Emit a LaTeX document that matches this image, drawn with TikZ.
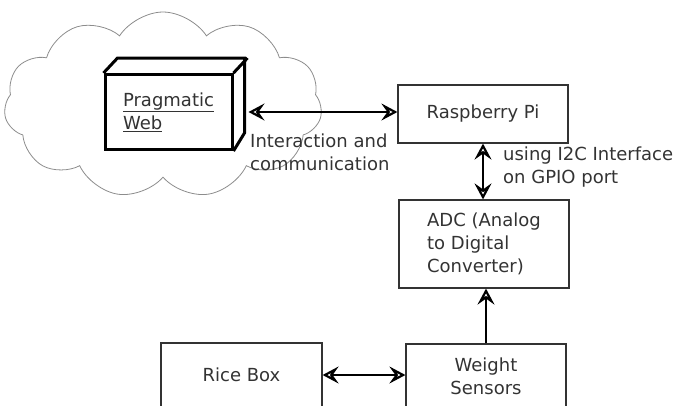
\documentclass[tikz,border=0pt]{standalone}
\usepackage{fontspec}
\setmainfont{DejaVu Sans}
\usepackage{tikz}
\usetikzlibrary{shapes.symbols, arrows.meta}
\definecolor{ink}{RGB}{51, 51, 51}
\definecolor{puff}{RGB}{140, 140, 140}
\newcommand*{\bw}{170}

\begin{document}
\begin{tikzpicture}[
   x=1pt, y=-1pt,
   every node/.style={font=\fontsize{18}{23}\selectfont, text=ink},
   box/.style={rectangle, draw=ink, line width=1.2pt, inner sep=0,
               minimum width=\bw, minimum height=58},
   webbox/.style={rectangle, draw=black, line width=3pt, inner sep=0, align=left,
                  minimum width=127, minimum height=75},
   note/.style={inner sep=0, anchor=north west, align=left},
   link/.style={line width=2.2pt, color=black,
                arrows={[open, length=16pt, width=17pt, inset=6pt, line width=2.2pt]}}
  ]

  \useasboundingbox (0, 0) rectangle (680, 405);
  \clip (0, 0) rectangle (680, 405);

  % Cloud
  \node (cloud) at (163, 105) [cloud, cloud puffs=11, cloud puff arc=115, aspect=1.75,
        draw=puff, line width=0.8pt, minimum width=318, minimum height=186] {};

  % Pragmatic Web
  \node (web) at (168.5, 112) [webbox] {\underline{Pragmatic}\\\underline{Web}};
  \draw[line width=3pt, line join=miter] (web.north west) -- ++(14, -15) -- ++(127, 0)
      -- ++(0, 75) -- (web.south east);
  \draw[line width=3pt] (web.north east) -- ++(14, -15);

  \node (rpi) at (483, 114) [box] {Raspberry Pi};
  \node (adc) at (484, 244) [box, minimum height=88, align=left]
        {ADC (Analog\\to Digital\\Converter)};
  \node (rice) at (241.5, 375) [box, minimum width=161, minimum height=64] {Rice Box};
  \node (weight) at (486, 376) [box, minimum width=160, minimum height=64, align=center]
        {Weight\\Sensors};

  \node (ialbl) at (250, 133.5) [note] {Interaction and\\communication};
  \node (i2clbl) at (503, 146.5) [note] {using I2C Interface\\on GPIO port};

  \draw[link, Stealth-Stealth] ([xshift=15]web.east) -- (web.east -| rpi.west);
  \draw[link, Stealth-Stealth] (rpi.south) -- (rpi.south |- adc.north);
  \draw[link, Stealth-Stealth] (rice.east) -- (rice.east -| weight.west);
  \draw[link, -Stealth] (weight.north) -- (weight.north |- adc.south);

\end{tikzpicture}
\end{document}
